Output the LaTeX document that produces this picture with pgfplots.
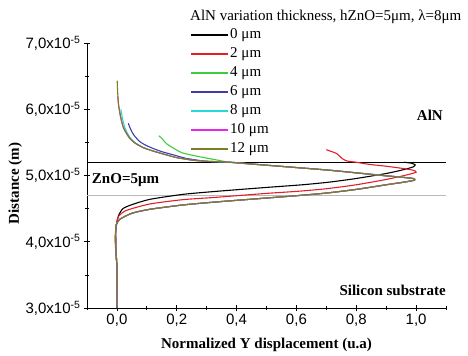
\documentclass[border=0pt]{standalone}
\usepackage{fontspec}
\setmainfont{Liberation Serif}
\newfontfamily\arialf{Liberation Sans}
\usepackage{pgfplots}
\pgfplotsset{compat=1.18}
\definecolor{cRed}{RGB}{228,30,40}
\definecolor{cGreen}{RGB}{60,205,60}
\definecolor{cBlue}{RGB}{60,60,175}
\definecolor{cCyan}{RGB}{40,215,215}
\definecolor{cMag}{RGB}{230,40,230}
\definecolor{cOlive}{RGB}{125,125,35}
\newcommand{\fs}{\fontsize{15bp}{18bp}\selectfont}
\begin{document}
\begin{tikzpicture}
\begin{axis}[
  scale only axis, width=359bp, height=265bp,
  xmin=-0.1, xmax=1.1, ymin=3, ymax=7,
  axis x line*=bottom, axis y line*=left,
  axis line style={line width=0.8pt},
  xtick={0,0.2,0.4,0.6,0.8,1.0},
  minor xtick={-0.1,0.1,0.3,0.5,0.7,0.9,1.1},
  ytick={3,4,5,6,7},
  yticklabels={{3,0x10\textsuperscript{-5}},{4,0x10\textsuperscript{-5}},{5,0x10\textsuperscript{-5}},{6,0x10\textsuperscript{-5}},{7,0x10\textsuperscript{-5}}},
  minor ytick={3.5,4.5,5.5,6.5},
  tick align=center, major tick length=6bp, minor tick length=4bp,
  tick style={black, line width=0.7pt},
  xticklabel style={font=\arialf\fs, /pgf/number format/.cd, use comma, fixed, fixed zerofill, precision=1, assume math mode=true},
  yticklabel style={font=\arialf\fs},
  xlabel={\textbf{Normalized Y displacement (u.a)}},
  ylabel={\textbf{Distance (m)}},
  every axis x label/.style={at={(rel axis cs:0.5,-0.14)}, anchor=center, font=\fs},
  every axis y label/.style={at={(rel axis cs:-0.2,0.47)}, rotate=90, anchor=center, font=\fs},
  legend style={at={(rel axis cs:0.287,1.06)}, anchor=north west, draw=none, fill=none, inner sep=0pt, row sep=4.5bp, font=\fs, column sep=1bp,
    nodes={inner sep=0pt, text height=11bp, text depth=3.5bp}},
  legend cell align=left,
  legend image code/.code={\draw[#1, line width=2bp] (0bp,0bp) -- (37bp,0bp);},
  every axis plot/.append style={line width=1.1pt},
  clip=false,
]
\addplot[gray!55, line width=0.9pt, forget plot] coordinates {(-0.1,4.7) (1.1,4.7)};
\addplot[black, line width=1.1pt, forget plot] coordinates {(-0.1,5.2) (1.1,5.2)};

\addplot[black, smooth, tension=0.4] coordinates {(0,3.0)(0,3.6)(-0.003,3.85)(-0.005,4.05)(-0.003,4.2)(0,4.3)(0.006,4.4)(0.02,4.5)(0.05,4.56)(0.11,4.64)(0.22,4.715)(0.33,4.76)(0.5,4.82)(0.62,4.86)(0.71,4.90)(0.8,4.955)(0.90,5.03)(0.96,5.09)(0.99,5.13)(0.997,5.16)(0.985,5.185)(0.96,5.2)};
\addlegendentry{0 μm}
\addplot[cRed, smooth, tension=0.4] coordinates {(0,3.0)(0,3.6)(-0.004,3.85)(-0.006,4.05)(-0.004,4.18)(0,4.3)(0.005,4.38)(0.03,4.47)(0.11,4.57)(0.22,4.635)(0.33,4.67)(0.5,4.73)(0.6,4.76)(0.70,4.80)(0.8,4.86)(0.90,4.94)(0.97,5.01)(1.0,5.05)(0.99,5.08)(0.95,5.11)(0.90,5.14)(0.84,5.17)(0.80,5.20)(0.768,5.22)(0.752,5.26)(0.735,5.33)(0.712,5.37)(0.70,5.39)};
\addlegendentry{2 μm}
\addplot[cGreen, smooth, tension=0.4] coordinates {(0,3.0)(0,3.6)(-0.003,3.85)(-0.004,4.05)(-0.004,4.18)(-0.002,4.26)(0.01,4.34)(0.05,4.43)(0.11,4.49)(0.22,4.555)(0.33,4.60)(0.5,4.66)(0.6,4.695)(0.70,4.735)(0.8,4.79)(0.9,4.86)(0.96,4.90)(0.995,4.93)(0.99,4.955)(0.95,4.975)(0.9,4.995)(0.8,5.04)(0.71,5.08)(0.6,5.12)(0.445,5.175)(0.38,5.195)(0.345,5.225)(0.28,5.28)(0.22,5.34)(0.19,5.41)(0.166,5.48)(0.15,5.56)(0.14,5.6)};
\addlegendentry{4 μm}
\addplot[cBlue, smooth, tension=0.4] coordinates {(0,3.0)(0,3.6)(-0.003,3.85)(-0.004,4.05)(-0.004,4.18)(-0.002,4.26)(0.01,4.34)(0.05,4.43)(0.11,4.49)(0.22,4.555)(0.33,4.60)(0.5,4.66)(0.6,4.695)(0.70,4.735)(0.8,4.79)(0.9,4.86)(0.96,4.90)(0.995,4.93)(0.99,4.955)(0.95,4.975)(0.9,4.995)(0.8,5.04)(0.71,5.08)(0.6,5.12)(0.445,5.175)(0.38,5.2)(0.31,5.21)(0.28,5.225)(0.23,5.26)(0.19,5.31)(0.15,5.36)(0.12,5.41)(0.095,5.46)(0.077,5.51)(0.06,5.59)(0.05,5.66)(0.042,5.74)(0.038,5.79)};
\addlegendentry{6 μm}
\addplot[cCyan, smooth, tension=0.4] coordinates {(0,3.0)(0,3.6)(-0.003,3.85)(-0.004,4.05)(-0.004,4.18)(-0.002,4.26)(0.01,4.34)(0.05,4.43)(0.11,4.49)(0.22,4.555)(0.33,4.60)(0.5,4.66)(0.6,4.695)(0.70,4.735)(0.8,4.79)(0.9,4.86)(0.96,4.90)(0.995,4.93)(0.99,4.955)(0.95,4.975)(0.9,4.995)(0.8,5.04)(0.71,5.08)(0.6,5.12)(0.445,5.175)(0.38,5.2)(0.3,5.215)(0.255,5.23)(0.2,5.27)(0.168,5.31)(0.122,5.37)(0.09,5.42)(0.063,5.49)(0.046,5.56)(0.034,5.65)(0.026,5.73)(0.019,5.85)(0.015,5.95)(0.013,6.0)};
\addlegendentry{8 μm}
\addplot[cMag, smooth, tension=0.4] coordinates {(0,3.0)(0,3.6)(-0.003,3.85)(-0.004,4.05)(-0.004,4.18)(-0.002,4.26)(0.01,4.34)(0.05,4.43)(0.11,4.49)(0.22,4.555)(0.33,4.60)(0.5,4.66)(0.6,4.695)(0.70,4.735)(0.8,4.79)(0.9,4.86)(0.96,4.90)(0.995,4.93)(0.99,4.955)(0.95,4.975)(0.9,4.995)(0.8,5.04)(0.71,5.08)(0.6,5.12)(0.445,5.175)(0.38,5.2)(0.3,5.215)(0.255,5.23)(0.2,5.27)(0.166,5.31)(0.12,5.37)(0.088,5.42)(0.06,5.49)(0.043,5.56)(0.03,5.65)(0.021,5.73)(0.014,5.85)(0.01,5.94)(0.006,6.05)(0.004,6.14)(0.003,6.2)};
\addlegendentry{10 μm}
\addplot[cOlive, smooth, tension=0.4] coordinates {(0,3.0)(0,3.6)(-0.003,3.85)(-0.004,4.05)(-0.004,4.18)(-0.002,4.26)(0.01,4.34)(0.05,4.43)(0.11,4.49)(0.22,4.555)(0.33,4.60)(0.5,4.66)(0.6,4.695)(0.70,4.735)(0.8,4.79)(0.9,4.86)(0.96,4.90)(0.995,4.93)(0.99,4.955)(0.95,4.975)(0.9,4.995)(0.8,5.04)(0.71,5.08)(0.6,5.12)(0.445,5.175)(0.38,5.2)(0.3,5.215)(0.255,5.23)(0.2,5.27)(0.166,5.31)(0.12,5.37)(0.088,5.42)(0.06,5.49)(0.043,5.56)(0.03,5.65)(0.021,5.73)(0.014,5.85)(0.01,5.94)(0.006,6.05)(0.004,6.14)(0.002,6.3)(0.001,6.43)};
\addlegendentry{12 μm}

\node[anchor=west, font=\fs, inner sep=0pt] at (rel axis cs:0.287,1.098) {AlN variation thickness, hZnO=5μm, λ=8μm};
\node[anchor=east, font=\fs\bfseries, inner sep=0pt] at (axis cs:1.09,5.91) {AlN};
\node[anchor=west, font=\fs\bfseries, inner sep=0pt] at (axis cs:-0.084,4.93) {ZnO=5μm};
\node[anchor=east, font=\fs\bfseries, inner sep=0pt] at (axis cs:1.1,3.27) {Silicon substrate};
\end{axis}
\path (current axis.south west) ++(-87bp,-48bp) rectangle ++(468bp,356bp);
\end{tikzpicture}
\end{document}
